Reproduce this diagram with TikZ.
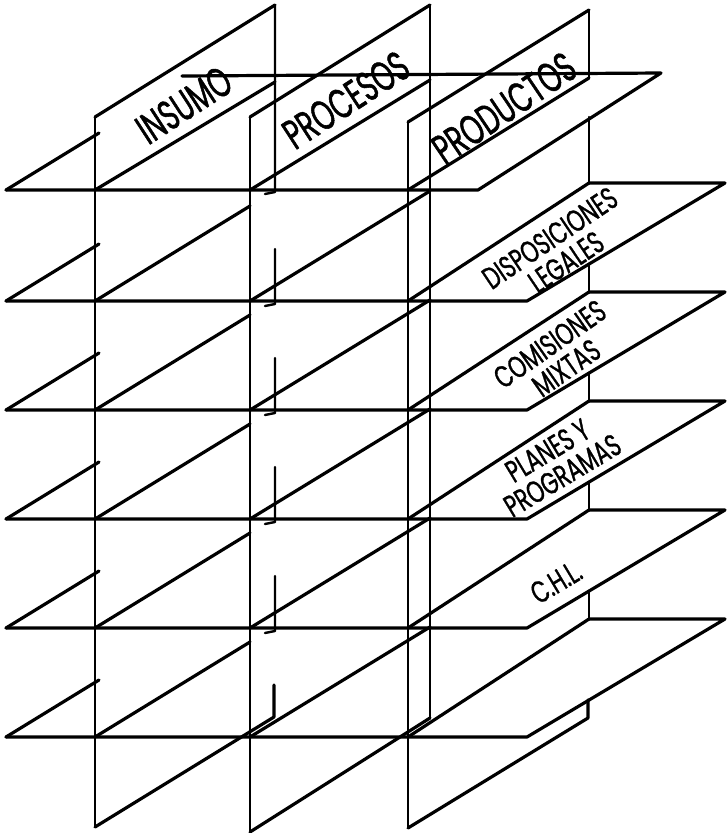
\documentclass[tikz,border=0pt]{standalone}
\usepackage{fontspec}
\newfontfamily\signfont[FakeStretch=0.64, FakeBold=1.2]{Poppins}
\newfontfamily\shelffont[FakeStretch=0.68, FakeBold=1]{Poppins}

\begin{document}
\begin{tikzpicture}[
    x=1pt, y=-1pt,
    line join=round, line cap=round,
    rim/.style={line width=3.2pt},
    post/.style={line width=2.4pt},
    paneltext/.style={font=\signfont\fontsize{42}{42}\selectfont, inner sep=0pt, rotate=33},
    shelftext/.style={font=\shelffont\fontsize{31}{29}\selectfont, inner sep=0pt, align=center}
]
\useasboundingbox (0,0) rectangle (728,833);

% Top shelf
\draw[rim] (6,190) -- (478,190) -- (661,73) -- (182,76);
\draw[rim] (6,190) -- (99,133);
\draw[rim] (95,190) -- (275,82);
\draw[rim] (250,190) -- (430,80);
\draw[rim] (408,190) -- (589,78);
\draw[post] (275,5) -- (275,192) -- (265,194);

% Lower shelves
\foreach \y in {301,410,519,628,737} {
    \draw[rim] (6,\y) -- (527,\y) -- (725,\y-118) -- (589,\y-118);
    \draw[rim] (6,\y) -- (99,\y-57);
    \draw[rim] (95,\y) -- (250,\y-95);
    \draw[rim] (250,\y) -- (430,\y-110);
    \draw[rim] (408,\y) -- (589,\y-118);
}
\foreach \y in {301,410,519,628}
    \draw[post] (275,\y-52) -- (275,\y+3) -- (265,\y+5);
\foreach \y/\z in {301/410,410/519,519/628,628/737}
    \draw[post] (589,\y-37) -- (589,\z-118);

% Panel INSUMO
\draw[post] (95,117) -- (95,827);
\draw[rim] (95,117) -- (275,5);
\draw[rim] (95,827) -- (274,717) -- (274,685);

% Panel PROCESOS
\draw[post] (250,117) -- (250,832);
\draw[rim] (250,117) -- (430,5);
\draw[post] (430,5) -- (430,718);
\draw[rim] (250,832) -- (430,718);

% Panel PRODUCTOS
\draw[post] (408,122) -- (408,828);
\draw[rim] (408,122) -- (589,10);
\draw[post] (589,10) -- (589,78);
\draw[post] (589,117) -- (589,183);
\draw[rim] (408,828) -- (588,718) -- (588,700);

% Labels
\node[paneltext] (insumo) at (184,105) {INSUMO};
\node[paneltext] (procesos) at (346,100) {PROCESOS};
\node[paneltext, rotate=1] (productos) at (504,108) {PRODUCTOS};
\node[shelftext, rotate=34] (legales) at (558,250) {DISPOSICIONES\\LEGALES};
\node[shelftext, rotate=35] (mixtas) at (558,356) {COMISIONES\\MIXTAS};
\node[shelftext, rotate=31] (programas) at (555,463) {PLANES Y\\PROGRAMAS};
\node[shelftext, rotate=31] (chl) at (556,582) {C.H.L.};

\end{tikzpicture}
\end{document}
